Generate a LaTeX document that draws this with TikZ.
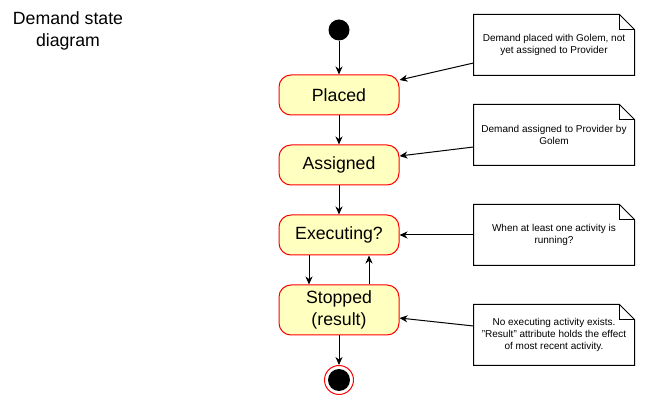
\documentclass[tikz,border=0pt]{standalone}
\usepackage{fontspec}
\setmainfont{Liberation Sans}
\usetikzlibrary{arrows.meta}
\usetikzlibrary{positioning}
\definecolor{statefill}{HTML}{FFFFC0}

\begin{document}
\begin{tikzpicture}[x=1pt,y=-1pt,->,>={Stealth[length=8pt,width=7pt,inset=2.5pt]},line width=1pt,node distance=70pt]
  \tikzstyle{statebox}=[rectangle,rounded corners=12pt,draw=red,fill=statefill,minimum width=120pt,minimum height=40pt,align=center,font=\fontsize{17.7}{21.2}\selectfont]
  \tikzstyle{notebox}=[rectangle,minimum width=160pt,minimum height=60pt,align=center,font=\fontsize{10}{12}\selectfont]

  \useasboundingbox (0,0) rectangle (649,406);

  \node[align=center,font=\fontsize{17.7}{21.6}\selectfont] (title) at (68,31) {Demand state\\diagram};

  \node[circle,fill=black,minimum size=21pt,inner sep=0pt] (start) at (339,30) {};
  \node[statebox,node distance=65pt] (placed)    [below of=start]     {Placed};
  \node[statebox]                    (assigned)  [below of=placed]    {Assigned};
  \node[statebox]                    (executing) [below of=assigned]  {Executing?};
  \node[statebox,minimum height=50pt,node distance=75pt] (stopped) [below of=executing] {Stopped\\(result)};
  \node[circle,draw=red,fill=white,minimum size=29pt,inner sep=0pt,
        path picture={\fill[black] (path picture bounding box.center) circle (11pt);}]
                                     (final)     [below of=stopped]   {};

  \node[notebox] (note1) at (554,45)  {Demand placed with Golem, not\\yet assigned to Provider};
  \node[notebox] (note2) at (554,135) {Demand assigned to Provider by\\Golem};
  \node[notebox] (note3) at (554,235) {When at least one activity is\\running?};
  \node[notebox] (note4) at (554,335) {No executing activity exists.\\"Result" attribute holds the effect\\of most recent activity.};

  % folded paper outline of the notes
  \foreach \n in {note1,note2,note3,note4} {
    \draw[-] (\n.south west) -- (\n.north west) -- ([xshift=-15pt]\n.north east)
      -- ([yshift=-15pt]\n.north east) -- (\n.south east) -- cycle;
    \draw[-] ([xshift=-15pt]\n.north east) |- ([yshift=-15pt]\n.north east);
  }

  \draw (start) -- (placed);
  \draw (placed) -- (assigned);
  \draw (assigned) -- (executing);
  \draw ([xshift=-30pt]executing.south) -- ([xshift=-30pt]stopped.north);
  \draw ([xshift=30pt]stopped.north) -- ([xshift=30pt]executing.south);
  \draw (stopped) -- (final);

  \draw ([yshift=-18pt]note1.west) -- ([yshift=15pt]placed.east);
  \draw ([yshift=-12pt]note2.west) -- ([yshift=9pt]assigned.east);
  \draw (note3) -- (executing);
  \draw ([yshift=9pt]note4.west) -- ([yshift=-8pt]stopped.east);
\end{tikzpicture}
\end{document}
